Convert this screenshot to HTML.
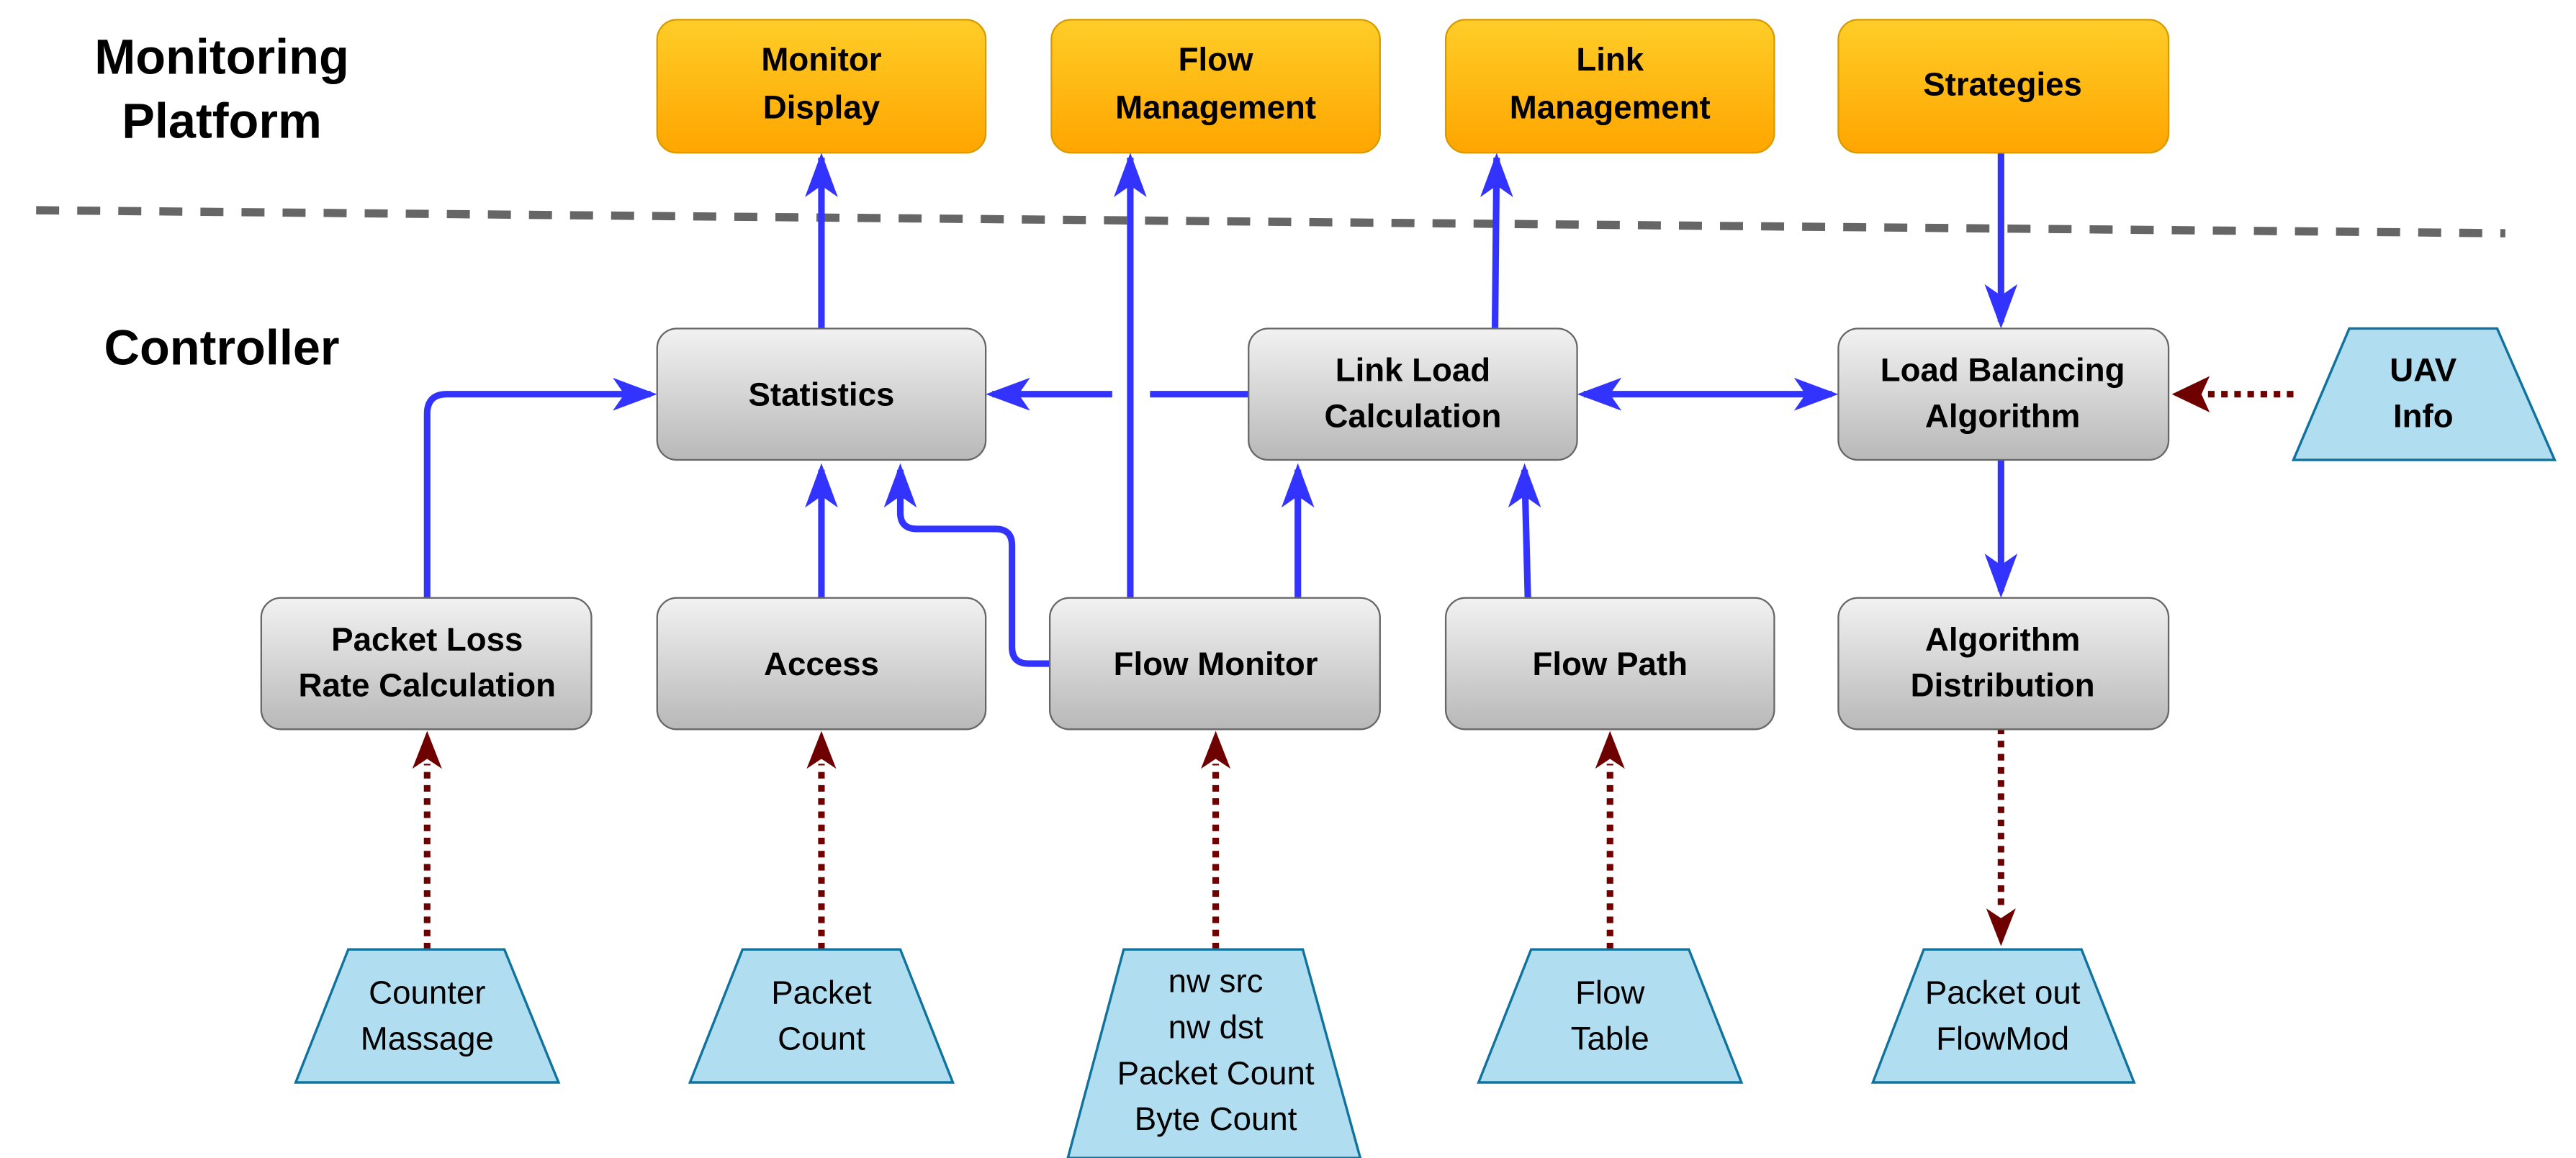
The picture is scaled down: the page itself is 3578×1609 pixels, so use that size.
<!DOCTYPE html>
<html><head><meta charset="utf-8"><style>html,body{margin:0;padding:0;background:#fff}svg{display:block}</style></head>
<body>
<svg width="3578" height="1609" viewBox="0 0 1568 705" preserveAspectRatio="none" xmlns="http://www.w3.org/2000/svg" font-family="'Liberation Sans', Arial, sans-serif">
<defs>
<linearGradient id="g" x1="0" y1="0" x2="0" y2="1"><stop offset="0" stop-color="#f2f2f2"/><stop offset="1" stop-color="#b8b8b8"/></linearGradient>
<linearGradient id="o" x1="0" y1="0" x2="0" y2="1"><stop offset="0" stop-color="#ffcd28"/><stop offset="1" stop-color="#ffa500"/></linearGradient>
<marker id="ab" viewBox="0 0 10 10" refX="9" refY="5" markerWidth="6" markerHeight="6" orient="auto" markerUnits="userSpaceOnUse"><path d="M0,0 L10,5 L0,10 L3,5 Z" fill="#3333ff"/></marker>
<marker id="ar" viewBox="0 0 10 10" refX="9" refY="5" markerWidth="5" markerHeight="5" orient="auto"><path d="M0,0 L10,5 L0,10 L3,5 Z" fill="#6f0000"/></marker>
</defs>
<style>
.b{fill:none;stroke:#3333ff;stroke-width:4}
.r{fill:none;stroke:#6f0000;stroke-width:4;stroke-dasharray:4 4}
.t{font-weight:bold;font-size:20px;text-anchor:middle;fill:#000}
.n{font-size:20px;text-anchor:middle;fill:#000}
</style>
<text x="135" y="45" font-size="30" font-weight="bold" text-anchor="middle">Monitoring</text>
<text x="135" y="84" font-size="30" font-weight="bold" text-anchor="middle">Platform</text>
<text x="135" y="222" font-size="30" font-weight="bold" text-anchor="middle">Controller</text>
<line x1="22" y1="128" x2="1525" y2="142" stroke="#666" stroke-width="5" stroke-dasharray="14 11"/>

<!-- blue connectors -->
<line class="b" x1="500" y1="200" x2="500" y2="96" marker-end="url(#ab)" style="stroke-width:4"/>
<line class="b" x1="688" y1="364" x2="688" y2="96"/>
<path d="M678,120 L688,93 L698,120 L688,113Z" fill="#3333ff"/>
<path d="M490,120 L500,93 L510,120 L500,113Z" fill="#3333ff"/>
<line class="b" x1="910" y1="200" x2="911" y2="96"/>
<path d="M901,120 L911,93 L921,120 L911,113Z" fill="#3333ff"/>
<line class="b" x1="1218" y1="93" x2="1218" y2="196"/>
<path d="M1208,173 L1218,200 L1228,173 L1218,180Z" fill="#3333ff"/>
<line class="b" x1="1218" y1="280" x2="1218" y2="360"/>
<path d="M1208,337 L1218,364 L1228,337 L1218,344Z" fill="#3333ff"/>
<line class="b" x1="700" y1="240" x2="760" y2="240"/>
<line class="b" x1="604" y1="240" x2="677" y2="240"/>
<path d="M627,230 L600,240 L627,250 L620,240Z" fill="#3333ff"/>
<line class="b" x1="964" y1="240" x2="1115" y2="240"/>
<path d="M987,230 L960,240 L987,250 L980,240Z" fill="#3333ff"/>
<path d="M1092,230 L1119,240 L1092,250 L1099,240Z" fill="#3333ff"/>
<path class="b" d="M260,364 L260,252 Q260,240 272,240 L396,240"/>
<path d="M373,230 L400,240 L373,250 L380,240Z" fill="#3333ff"/>
<line class="b" x1="500" y1="364" x2="500" y2="286"/>
<path d="M490,309 L500,282 L510,309 L500,302Z" fill="#3333ff"/>
<path class="b" d="M639,404 L626,404 Q616,404 616,394 L616,332 Q616,322 606,322 L558,322 Q548,322 548,312 L548,286"/>
<path d="M538,309 L548,282 L558,309 L548,302Z" fill="#3333ff"/>
<line class="b" x1="790" y1="364" x2="790" y2="286"/>
<path d="M780,309 L790,282 L800,309 L790,302Z" fill="#3333ff"/>
<line class="b" x1="930" y1="364" x2="928" y2="286"/>
<path d="M918,309 L928,282 L938,309 L928,302Z" fill="#3333ff"/>

<!-- red dotted -->
<line class="r" x1="1396" y1="240" x2="1340" y2="240"/>
<path d="M1345,229 L1322,240 L1345,251 L1340,240Z" fill="#6f0000"/>
<g>
<line class="r" x1="260" y1="578" x2="260" y2="465"/><path d="M251,468 L260,445 L269,468 L260,462Z" fill="#6f0000"/>
<line class="r" x1="500" y1="578" x2="500" y2="465"/><path d="M491,468 L500,445 L509,468 L500,462Z" fill="#6f0000"/>
<line class="r" x1="740" y1="578" x2="740" y2="465"/><path d="M731,468 L740,445 L749,468 L740,462Z" fill="#6f0000"/>
<line class="r" x1="980" y1="578" x2="980" y2="465"/><path d="M971,468 L980,445 L989,468 L980,462Z" fill="#6f0000"/>
<line class="r" x1="1218" y1="443" x2="1218" y2="555"/><path d="M1209,553 L1218,576 L1227,553 L1218,559Z" fill="#6f0000"/>
</g>

<!-- orange boxes -->
<g stroke="#d79b00" stroke-width="1" fill="url(#o)">
<rect x="400" y="12" width="200" height="81" rx="12"/>
<rect x="640" y="12" width="200" height="81" rx="12"/>
<rect x="880" y="12" width="200" height="81" rx="12"/>
<rect x="1119" y="12" width="201" height="81" rx="12"/>
</g>
<text class="t" x="500" y="43">Monitor</text><text class="t" x="500" y="72">Display</text>
<text class="t" x="740" y="43">Flow</text><text class="t" x="740" y="72">Management</text>
<text class="t" x="980" y="43">Link</text><text class="t" x="980" y="72">Management</text>
<text class="t" x="1219" y="58">Strategies</text>

<!-- gray boxes -->
<g stroke="#666" stroke-width="1" fill="url(#g)">
<rect x="400" y="200" width="200" height="80" rx="12"/>
<rect x="760" y="200" width="200" height="80" rx="12"/>
<rect x="1119" y="200" width="201" height="80" rx="12"/>
<rect x="159" y="364" width="201" height="80" rx="12"/>
<rect x="400" y="364" width="200" height="80" rx="12"/>
<rect x="639" y="364" width="201" height="80" rx="12"/>
<rect x="880" y="364" width="200" height="80" rx="12"/>
<rect x="1119" y="364" width="201" height="80" rx="12"/>
</g>
<text class="t" x="500" y="247">Statistics</text>
<text class="t" x="860" y="232">Link Load</text><text class="t" x="860" y="260">Calculation</text>
<text class="t" x="1219" y="232">Load Balancing</text><text class="t" x="1219" y="260">Algorithm</text>
<text class="t" x="260" y="396">Packet Loss</text><text class="t" x="260" y="424">Rate Calculation</text>
<text class="t" x="500" y="411">Access</text>
<text class="t" x="740" y="411">Flow Monitor</text>
<text class="t" x="980" y="411">Flow Path</text>
<text class="t" x="1219" y="396">Algorithm</text><text class="t" x="1219" y="424">Distribution</text>

<!-- trapezoids -->
<g fill="#b1ddf0" stroke="#10739e" stroke-width="1.5">
<polygon points="1430,200 1520,200 1555,280 1396,280"/>
<polygon points="212,578 307,578 340,659 180,659"/>
<polygon points="452,578 548,578 580,659 420,659"/>
<polygon points="684,578 793,578 828,705 650,705"/>
<polygon points="932,578 1028,578 1060,659 900,659"/>
<polygon points="1171,578 1267,578 1299,659 1140,659"/>
</g>
<text class="t" x="1475" y="232">UAV</text><text class="t" x="1475" y="260">Info</text>
<text class="n" x="260" y="611">Counter</text><text class="n" x="260" y="639">Massage</text>
<text class="n" x="500" y="611">Packet</text><text class="n" x="500" y="639">Count</text>
<text class="n" x="740" y="604">nw src</text><text class="n" x="740" y="632">nw dst</text><text class="n" x="740" y="660">Packet Count</text><text class="n" x="740" y="688">Byte Count</text>
<text class="n" x="980" y="611">Flow</text><text class="n" x="980" y="639">Table</text>
<text class="n" x="1219" y="611">Packet out</text><text class="n" x="1219" y="639">FlowMod</text>
</svg>
</body></html>
